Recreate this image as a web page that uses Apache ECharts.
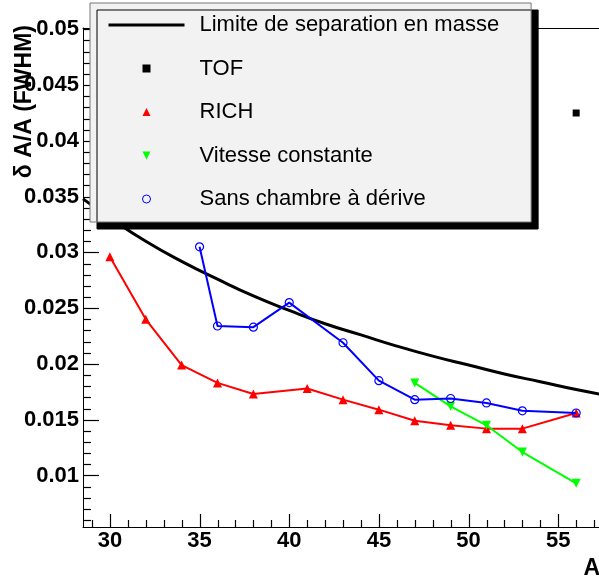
<!DOCTYPE html>
<html>
<head>
<meta charset="utf-8">
<script src="https://cdn.jsdelivr.net/npm/echarts@6/dist/echarts.min.js"></script>
<style>html,body{margin:0;padding:0;background:#fff;}#c{width:599px;height:578px;}</style>
</head>
<body>
<div id="c"></div>
<script>
// ---- data ----
const limitA   = [28.5, 30, 32, 34, 36, 38, 40, 42, 44, 46, 48, 50, 52, 54, 56, 58, 58.5];
const limitRes = [0.0348, 0.0331, 0.0310, 0.0292, 0.0276, 0.0261, 0.0248, 0.0236, 0.0226, 0.0216, 0.0207, 0.0199, 0.0191, 0.0184, 0.0177, 0.0171, 0.0170];
const tofA   = [56];
const tofRes = [0.0425];
const richA   = [30, 32, 34, 36, 38, 41, 43, 45, 47, 49, 51, 53, 56];
const richRes = [0.0296, 0.0240, 0.0199, 0.0183, 0.0173, 0.0178, 0.0168, 0.0159, 0.0149, 0.0145, 0.0142, 0.0142, 0.0156];
const vitA   = [47, 49, 51, 53, 56];
const vitRes = [0.0183, 0.0162, 0.0145, 0.0121, 0.0093];
const sansA   = [35, 36, 38, 40, 43, 45, 47, 49, 51, 53, 56];
const sansRes = [0.0305, 0.0234, 0.0233, 0.0255, 0.0219, 0.0185, 0.0168, 0.0169, 0.0165, 0.0158, 0.0156];
const seriesNames = ['Limite de separation en masse', 'TOF', 'RICH', 'Vitesse constante', 'Sans chambre à dérive'];
// tick positions and labels
const xMajorTicks = [30, 35, 40, 45, 50, 55];
const xMinorTicks = [29, 31, 32, 33, 34, 36, 37, 38, 39, 41, 42, 43, 44, 46, 47, 48, 49, 51, 52, 53, 54, 56, 57, 58];
const yMajorTicks = [0.01, 0.015, 0.02, 0.025, 0.03, 0.035, 0.04, 0.045, 0.05];
const yMinorTicks = [0.006, 0.007, 0.008, 0.009, 0.011, 0.012, 0.013, 0.014, 0.016, 0.017, 0.018, 0.019,
  0.021, 0.022, 0.023, 0.024, 0.026, 0.027, 0.028, 0.029, 0.031, 0.032, 0.033, 0.034,
  0.036, 0.037, 0.038, 0.039, 0.041, 0.042, 0.043, 0.044, 0.046, 0.047, 0.048, 0.049];
const xTitle = 'A';
const yTitle = 'δ A/A (FWHM)';

const pairs = (a, b) => a.map((v, i) => [v, b[i]]);
const FONT = "'Liberation Sans', Arial, Helvetica, sans-serif";
const X_MIN = 28.5, X_MAX = 58.5, Y_MIN = 0.00538, Y_MAX = 0.05012;

// tick marks drawn through the axes' own scales (api.coord)
function tickSeries(values, isX, len) {
  return {
    type: 'custom', silent: true, z: 10, clip: false, xAxisIndex: 0, yAxisIndex: 0,
    data: values.map(v => isX ? [v, Y_MIN] : [X_MIN, v]),
    renderItem: function (params, api) {
      const p = api.coord([api.value(0), api.value(1)]);
      if (isX) {
        const x = Math.round(p[0]) + 0.5;
        return {type: 'line', z2: 10, shape: {x1: x, y1: p[1], x2: x, y2: p[1] - len}, style: {stroke: '#000000', lineWidth: 1.2, fill: null}};
      }
      const y = Math.round(p[1]) + 0.5;
      return {type: 'line', z2: 10, shape: {x1: p[0], y1: y, x2: p[0] + len, y2: y}, style: {stroke: '#000000', lineWidth: 1.2, fill: null}};
    }
  };
}

const frameAxis = {axisLabel: {show: false}, axisTick: {show: false}, splitLine: {show: false},
                   axisLine: {show: true, onZero: false, lineStyle: {color: '#000', width: 1}}};

const chart = echarts.init(document.getElementById('c'), null, {renderer: 'canvas'});
chart.setOption({
  animation: false,
  backgroundColor: '#ffffff',
  grid: {left: 83, top: 28, right: -22, bottom: 51, show: false, containLabel: false, outerBoundsMode: 'none'},
  xAxis: [{
    type: 'value', min: X_MIN, max: X_MAX, splitNumber: 6, position: 'bottom',
    name: xTitle, nameLocation: 'end', nameGap: -21, nameMoveOverlap: false,
    nameTextStyle: {fontFamily: FONT, fontWeight: 'bold', fontSize: 23, color: '#000', align: 'right', verticalAlign: 'top', padding: [30, 0, 0, 0]},
    axisLine: {show: true, onZero: false, lineStyle: {color: '#000', width: 1}},
    axisTick: {show: false},
    axisLabel: {show: true, customValues: xMajorTicks, margin: 3, fontFamily: FONT, fontWeight: 'bold', fontSize: 22, color: '#000',
                formatter: v => String(Math.round(v))},
    splitLine: {show: false}
  }, Object.assign({type: 'value', min: X_MIN, max: X_MAX, position: 'top'}, frameAxis)],
  yAxis: [{
    type: 'value', min: Y_MIN, max: Y_MAX, splitNumber: 9, position: 'left',
    name: yTitle, nameLocation: 'end', nameGap: 3, nameRotate: 90, nameMoveOverlap: false,
    nameTextStyle: {fontFamily: FONT, fontWeight: 'bold', fontSize: 23, color: '#000', align: 'right', verticalAlign: 'bottom', padding: [0, 0, 47, 0]},
    axisLine: {show: true, onZero: false, lineStyle: {color: '#000', width: 1}},
    axisTick: {show: false},
    axisLabel: {show: true, customValues: yMajorTicks, margin: 4, fontFamily: FONT, fontWeight: 'bold', fontSize: 22, color: '#000',
                formatter: v => String(parseFloat(Number(v).toFixed(4)))},
    splitLine: {show: false}
  }, Object.assign({type: 'value', min: Y_MIN, max: Y_MAX, position: 'right'}, frameAxis)],
  legend: {
    orient: 'vertical', left: 90, top: 3, z: 20,
    padding: [11, 32, 12, 17],
    itemWidth: 76, itemHeight: 10, itemGap: 21.5,
    backgroundColor: '#f2f2f2', borderColor: '#777', borderWidth: 1, borderRadius: 0,
    shadowColor: '#000', shadowBlur: 0, shadowOffsetX: 7, shadowOffsetY: 7,
    selectedMode: false,
    textStyle: {fontFamily: FONT, fontSize: 22, lineHeight: 22, color: '#000', padding: [0, 0, 0, 10]},
    data: [
      {name: seriesNames[0], itemStyle: {opacity: 0}, lineStyle: {width: 3, color: '#000', opacity: 1}},
      {name: seriesNames[1], lineStyle: {opacity: 0}},
      {name: seriesNames[2], lineStyle: {opacity: 0}},
      {name: seriesNames[3], lineStyle: {opacity: 0}},
      {name: seriesNames[4], lineStyle: {opacity: 0}, itemStyle: {borderWidth: 1}}
    ]
  },
  series: [
    tickSeries(xMajorTicks, true, 13),
    tickSeries(xMinorTicks, true, 7),
    tickSeries(yMajorTicks, false, 16),
    tickSeries(yMinorTicks, false, 8),
    {name: seriesNames[0], type: 'line', data: pairs(limitA, limitRes), smooth: true, symbol: 'none',
     lineStyle: {color: '#000', width: 3}, itemStyle: {color: '#000'}, z: 2},
    {name: seriesNames[1], type: 'line', data: pairs(tofA, tofRes), symbol: 'rect', symbolSize: 7, showSymbol: true,
     lineStyle: {opacity: 0}, itemStyle: {color: '#000'}, z: 3},
    {name: seriesNames[2], type: 'line', data: pairs(richA, richRes), symbol: 'triangle', symbolSize: 9,
     lineStyle: {color: '#ff0000', width: 2}, itemStyle: {color: '#ff0000'}, z: 4},
    {name: seriesNames[3], type: 'line', data: pairs(vitA, vitRes), symbol: 'triangle', symbolRotate: 180, symbolSize: 9,
     lineStyle: {color: '#00ff00', width: 2}, itemStyle: {color: '#00ff00'}, z: 5},
    {name: seriesNames[4], type: 'line', data: pairs(sansA, sansRes), symbol: 'circle', symbolSize: 8,
     lineStyle: {color: '#0000ff', width: 2}, itemStyle: {color: 'rgba(0,0,0,0)', borderColor: '#0000ff', borderWidth: 1.2}, z: 6}
  ]
});
</script>
</body>
</html>
